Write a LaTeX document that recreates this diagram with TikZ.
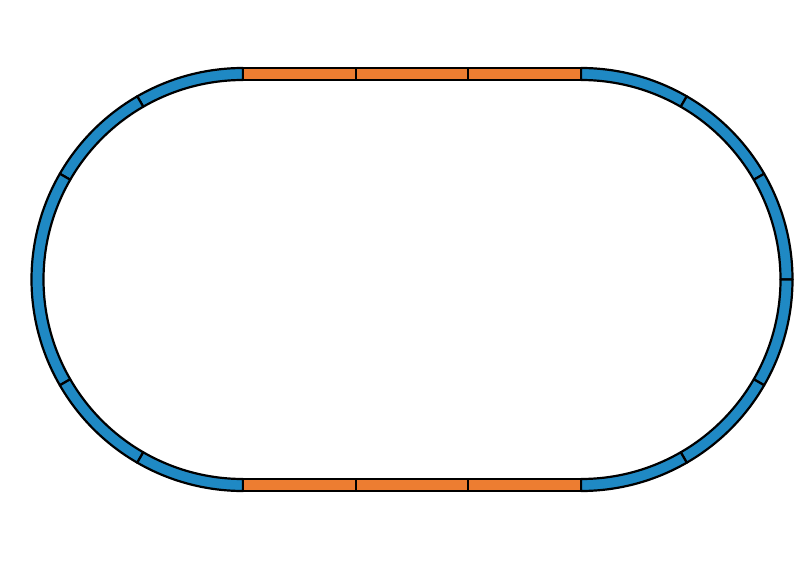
\documentclass[tikz,border=0pt]{standalone}
\definecolor{trackblue}{RGB}{31,137,196}
\definecolor{trackorange}{RGB}{237,125,49}
\tikzset{
  seg/.style={draw=black, line width=2.2pt, line join=round},
  curve/.style={seg, fill=trackblue},
  straight/.style={seg, fill=trackorange}
}
\begin{document}
\begin{tikzpicture}[x=1pt,y=1pt]
\useasboundingbox (0,0) rectangle (800,566);
\def\ro{211.5}\def\ri{199.5}
% left curve
\foreach \a/\b in {90/120,120/150,150/210,210/240,240/270}{
  \path[curve] ([shift={(\a:\ro)}]243,286.5) arc[start angle=\a,end angle=\b,radius=\ro]
    -- ([shift={(\b:\ri)}]243,286.5) arc[start angle=\b,end angle=\a,radius=\ri] -- cycle;
}
% right curve
\foreach \a/\b in {90/60,60/30,30/0,0/-30,-30/-60,-60/-90}{
  \path[curve] ([shift={(\a:\ro)}]581,286.5) arc[start angle=\a,end angle=\b,radius=\ro]
    -- ([shift={(\b:\ri)}]581,286.5) arc[start angle=\b,end angle=\a,radius=\ri] -- cycle;
}
% straights
\foreach \xa/\xb in {243/355.667,355.667/468.333,468.333/581}{
  \path[straight] (\xa,486) rectangle (\xb,498);
  \path[straight] (\xa,75) rectangle (\xb,87);
}
\end{tikzpicture}
\end{document}
